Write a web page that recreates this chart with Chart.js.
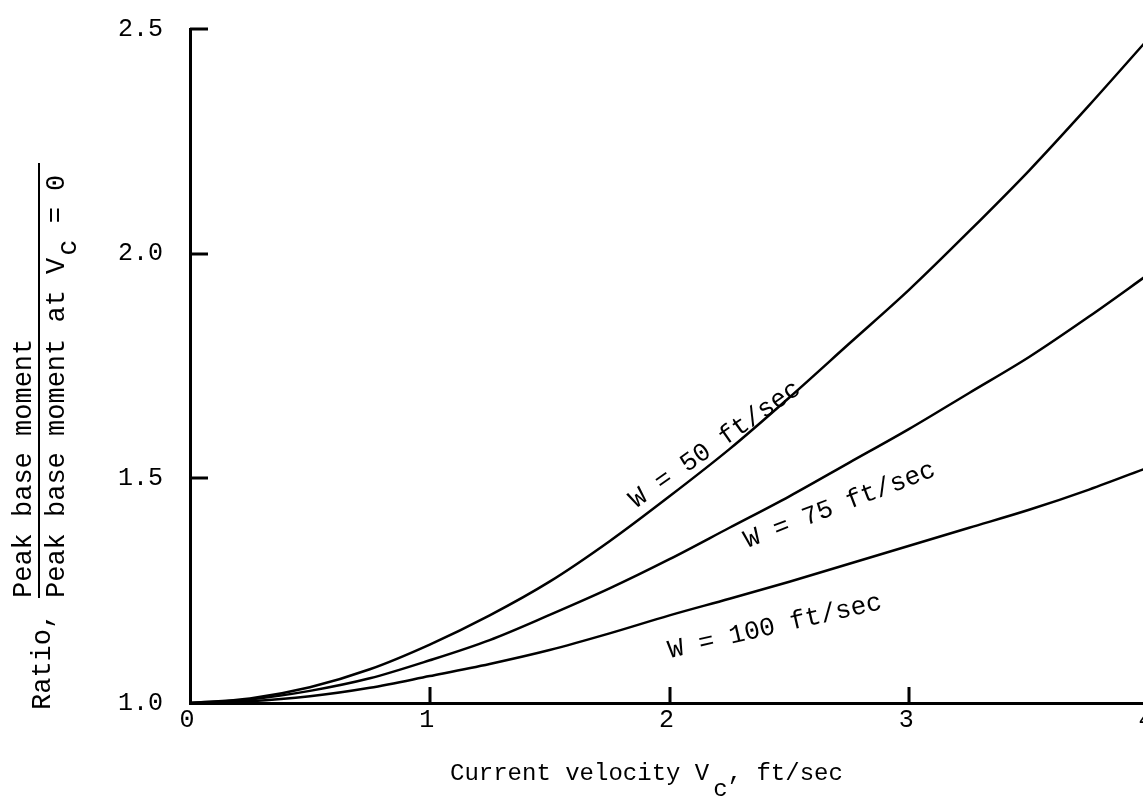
<!DOCTYPE html>
<html>
<head>
<meta charset="utf-8">
<title>Peak base moment ratio vs current velocity</title>
<script src="https://cdn.jsdelivr.net/npm/chart.js@4.4.0/dist/chart.umd.min.js"></script>
<style>
  html, body { margin: 0; padding: 0; background: #fff; overflow: hidden; }
  #wrap { width: 1160px; height: 812px; }
</style>
</head>
<body>
<div id="wrap"><canvas id="myChart" width="1160" height="812"></canvas></div>
<script>
// current velocity Vc, ft/sec
const velocity = [0, 0.25, 0.5, 0.75, 1, 1.25, 1.5, 1.75, 2, 2.25, 2.5, 2.75, 3, 3.25, 3.5, 3.75, 4];

// moment ratio for each wave velocity W
const ratioW50  = [1.0, 1.010, 1.035, 1.075, 1.130, 1.195, 1.270, 1.360, 1.460, 1.565, 1.680, 1.800, 1.920, 2.050, 2.185, 2.330, 2.480];
const ratioW75  = [1.0, 1.008, 1.027, 1.055, 1.095, 1.140, 1.196, 1.255, 1.320, 1.390, 1.460, 1.535, 1.610, 1.690, 1.770, 1.860, 1.955];
const ratioW100 = [1.0, 1.004, 1.015, 1.034, 1.060, 1.087, 1.118, 1.155, 1.195, 1.232, 1.270, 1.310, 1.350, 1.390, 1.430, 1.475, 1.525];

const seriesNames = ['W = 50 ft/sec', 'W = 75 ft/sec', 'W = 100 ft/sec'];
const xTicks = [0, 1, 2, 3, 4];
const yTicks = [1.0, 1.5, 2.0, 2.5];

const mono = '"Liberation Mono", "DejaVu Sans Mono", monospace';

function toPoints(ys) {
  return velocity.map((v, i) => ({ x: v, y: ys[i] }));
}

// short tick marks pointing into the plot
const innerTicks = {
  id: 'innerTicks',
  afterDatasetsDraw(chart) {
    const { ctx, chartArea, scales: { x, y } } = chart;
    ctx.save();
    ctx.strokeStyle = '#000';
    ctx.lineWidth = 3;
    ctx.beginPath();
    yTicks.slice(1).forEach(v => {
      const py = Math.round(y.getPixelForValue(v));
      ctx.moveTo(chartArea.left, py);
      ctx.lineTo(chartArea.left + 18, py);
    });
    xTicks.slice(1).forEach(v => {
      const px = Math.round(x.getPixelForValue(v));
      ctx.moveTo(px, chartArea.bottom);
      ctx.lineTo(px, chartArea.bottom - 16);
    });
    ctx.stroke();
    ctx.restore();
  }
};

// labels written beside each curve, centred on a point in data units
const curveLabels = {
  id: 'curveLabels',
  afterDatasetsDraw(chart, args, opts) {
    const { ctx, scales: { x, y } } = chart;
    ctx.save();
    ctx.fillStyle = '#000';
    ctx.font = opts.font;
    ctx.textAlign = 'center';
    ctx.textBaseline = 'middle';
    opts.items.forEach(item => {
      ctx.save();
      ctx.translate(x.getPixelForValue(item.x), y.getPixelForValue(item.y));
      ctx.rotate(-item.angle * Math.PI / 180);
      ctx.fillText(item.text, 0, 0);
      ctx.restore();
    });
    ctx.restore();
  }
};

// axis titles with subscripts and the stacked fraction
const axisTitles = {
  id: 'axisTitles',
  afterDraw(chart) {
    const { ctx } = chart;
    ctx.save();
    ctx.fillStyle = '#000';
    ctx.textBaseline = 'alphabetic';
    ctx.textAlign = 'left';

    // x title
    ctx.font = '24px ' + mono;
    let tx = 450;
    const ty = 780;
    ctx.fillText('Current velocity V', tx, ty);
    tx += ctx.measureText('Current velocity V').width + 4;
    ctx.fillText('c', tx, ty + 16);
    tx += ctx.measureText('c').width;
    ctx.fillText(', ft/sec', tx, ty);

    // y title, rotated (x' = -pageY, y' = pageX)
    ctx.rotate(-Math.PI / 2);
    ctx.font = '27px ' + mono;
    ctx.fillText('Ratio,', -710, 50);
    ctx.fillText('Peak base moment', -598, 31);
    let dx = -598;
    ctx.fillText('Peak base moment at V', dx, 64);
    dx += ctx.measureText('Peak base moment at V').width + 2;
    ctx.fillText('c', dx, 76);
    dx += ctx.measureText('c').width;
    ctx.fillText(' = 0', dx, 64);
    ctx.lineWidth = 2;
    ctx.strokeStyle = '#000';
    ctx.beginPath();
    ctx.moveTo(-598, 39);
    ctx.lineTo(-163, 39);
    ctx.stroke();
    ctx.restore();
  }
};

function createChart() {
  const ctx = document.getElementById('myChart');
  const lineStyle = {
    borderColor: '#000',
    borderWidth: 2.5,
    pointRadius: 0,
    fill: false,
    cubicInterpolationMode: 'monotone'
  };
  new Chart(ctx, {
    type: 'line',
    data: {
      datasets: [
        { label: seriesNames[0], data: toPoints(ratioW50), ...lineStyle },
        { label: seriesNames[1], data: toPoints(ratioW75), ...lineStyle },
        { label: seriesNames[2], data: toPoints(ratioW100), ...lineStyle }
      ]
    },
    options: {
      responsive: false,
      animation: false,
      layout: { padding: { top: 29, right: 11, left: 0, bottom: 0 } },
      scales: {
        x: {
          type: 'linear',
          min: 0,
          max: 4,
          afterBuildTicks: s => { s.ticks = xTicks.map(v => ({ value: v })); },
          afterFit: s => { s.height = 109; s.paddingLeft = 0; s.paddingRight = 0; },
          ticks: {
            color: '#000',
            padding: 2,
            labelOffset: -3,
            font: { family: mono, size: 25 },
            callback: v => String(v)
          },
          grid: { drawOnChartArea: false, drawTicks: false },
          border: { display: true, color: '#000', width: 3 }
        },
        y: {
          min: 1,
          max: 2.5,
          afterBuildTicks: s => { s.ticks = yTicks.map(v => ({ value: v })); },
          // tick padding would otherwise push the plot top down
          afterFit: s => { s.width = 190; s.paddingTop = 0; s.paddingBottom = 0; },
          ticks: {
            color: '#000',
            padding: 27,
            font: { family: mono, size: 25 },
            callback: v => Number(v).toFixed(1)
          },
          grid: { drawOnChartArea: false, drawTicks: false },
          border: { display: true, color: '#000', width: 3 }
        }
      },
      plugins: {
        legend: { display: false },
        tooltip: { enabled: false },
        curveLabels: {
          font: '26px ' + mono,
          items: [
            { x: 2.19, y: 1.575, angle: 35, text: seriesNames[0] },
            { x: 2.71, y: 1.44, angle: 21, text: seriesNames[1] },
            { x: 2.44, y: 1.17, angle: 13, text: seriesNames[2] }
          ]
        }
      }
    },
    plugins: [innerTicks, curveLabels, axisTitles]
  });
}

createChart();
</script>
</body>
</html>
